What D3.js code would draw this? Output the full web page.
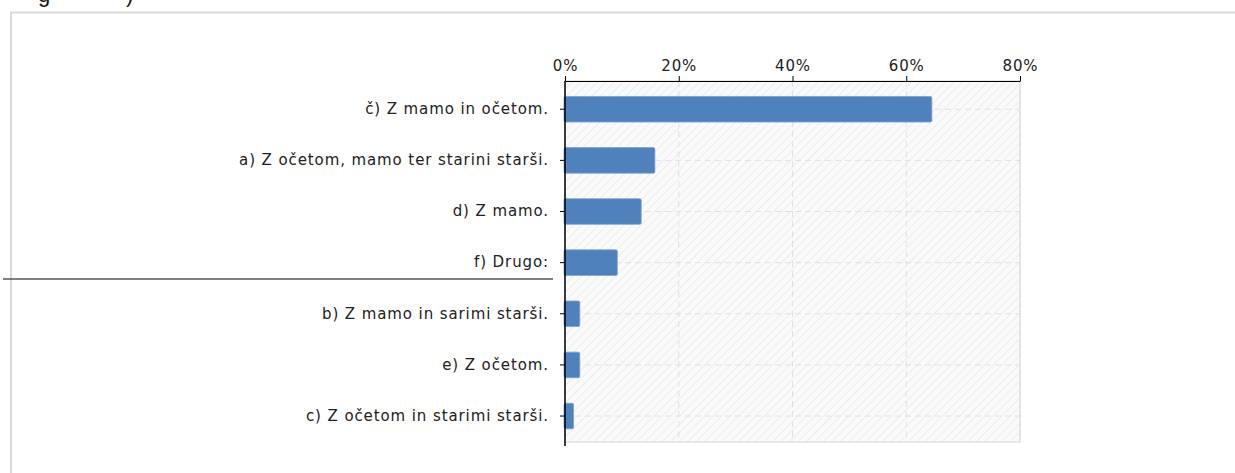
<!DOCTYPE html>
<html><head><meta charset="utf-8">
<script src="https://cdn.jsdelivr.net/npm/d3@7"></script>
<style>
html,body{margin:0;padding:0;background:#fff;}
svg{display:block;font-family:"DejaVu Sans",Verdana,sans-serif;}
</style></head>
<body>
<svg id="c" width="1235" height="473"></svg>
<script>
const categories = ["č) Z mamo in očetom.","a) Z očetom, mamo ter starini starši.","d) Z mamo.","f) Drugo:","b) Z mamo in sarimi starši.","e) Z očetom.","c) Z očetom in starimi starši."];
const values = [64.5, 15.8, 13.4, 9.2, 2.6, 2.6, 1.5];
const tickValues = [0, 20, 40, 60, 80];
const tickLabels = ["0%","20%","40%","60%","80%"];

(function(){
const svg = d3.select("#c");
const pL = 565, pR = 1020, pT = 81, pB = 442;

// header partial text (clipped at top, as in the reference)
svg.append("text").attr("x", 38).attr("y", 2).attr("font-family","Liberation Sans, Arial, sans-serif")
  .attr("font-size", 22).attr("fill","#111").text("g");
svg.append("text").attr("x", 126).attr("y", 2).attr("font-family","Liberation Sans, Arial, sans-serif")
  .attr("font-size", 22).attr("fill","#111").text(")");

// outer frame
svg.append("path").attr("d","M11,473 V12.5 H1235").attr("fill","none").attr("stroke","#d9d9d9").attr("stroke-width",2);

// dark separator line
svg.append("line").attr("x1",3).attr("x2",553).attr("y1",279).attr("y2",279).attr("stroke","#555").attr("stroke-width",1.5);

const x = d3.scaleLinear().domain([0,80]).range([pL,pR]);
const y = d3.scaleBand().domain(categories).range([pT,pB]).paddingInner(0.5).paddingOuter(0.28).align(0.54);

// hatch pattern
const defs = svg.append("defs");
const pat = defs.append("pattern").attr("id","hatch").attr("patternUnits","userSpaceOnUse")
  .attr("width",6).attr("height",6).attr("patternTransform","rotate(45)");
pat.append("rect").attr("width",6).attr("height",6).attr("fill","#fafafa");
pat.append("line").attr("x1",0).attr("y1",0).attr("x2",0).attr("y2",6).attr("stroke","#e4e4e4").attr("stroke-width",1.2);

svg.append("rect").attr("x",pL).attr("y",pT).attr("width",pR-pL).attr("height",pB-pT)
  .attr("fill","url(#hatch)").attr("stroke","#e0e0e0").attr("stroke-width",1.5);

// gridlines
const g = svg.append("g");
g.selectAll(".vg").data(tickValues.slice(1)).join("line")
  .attr("x1",d=>x(d)).attr("x2",d=>x(d)).attr("y1",pT).attr("y2",pB)
  .attr("stroke","#e0e0e0").attr("stroke-dasharray","6,4");
g.selectAll(".hg").data(categories).join("line")
  .attr("x1",pL).attr("x2",pR).attr("y1",d=>y(d)+y.bandwidth()/2).attr("y2",d=>y(d)+y.bandwidth()/2)
  .attr("stroke","#e0e0e0").attr("stroke-dasharray","6,4");

// bars
svg.selectAll(".bar").data(values).join("rect")
  .attr("x", x(0)-1).attr("y",(d,i)=>y(categories[i])).attr("height",y.bandwidth())
  .attr("width",d=>x(d)-x(0)+1).attr("rx",1.5)
  .attr("fill","#4f81bd").attr("stroke","#7aa0d0").attr("stroke-width",0.8);

// x axis (top)
const xa = svg.append("g").attr("transform",`translate(0,${pT})`)
  .call(d3.axisTop(x).tickValues(tickValues).tickFormat((d,i)=>tickLabels[i]).tickSize(5).tickSizeOuter(0));
xa.select(".domain").attr("stroke","#000").attr("stroke-width",1.2);
xa.selectAll(".tick line").attr("stroke","#000");
xa.selectAll("text").attr("font-size",15).attr("letter-spacing","0.9px").attr("fill","#222")
  .attr("font-family","DejaVu Sans, Verdana, sans-serif").attr("dy","-0.15em");

// y axis
const ya = svg.append("g").attr("transform",`translate(${pL},0)`)
  .call(d3.axisLeft(y).tickSize(5).tickSizeOuter(0).tickPadding(11));
ya.select(".domain").attr("d",`M0,${pT}V${pB+4}`).attr("stroke","#000").attr("stroke-width",1.5);
ya.selectAll(".tick line").attr("stroke","#000");
ya.selectAll("text").attr("font-size",15).attr("letter-spacing","0.9px").attr("fill","#222")
  .attr("font-family","DejaVu Sans, Verdana, sans-serif");
})();
</script>
</body></html>
